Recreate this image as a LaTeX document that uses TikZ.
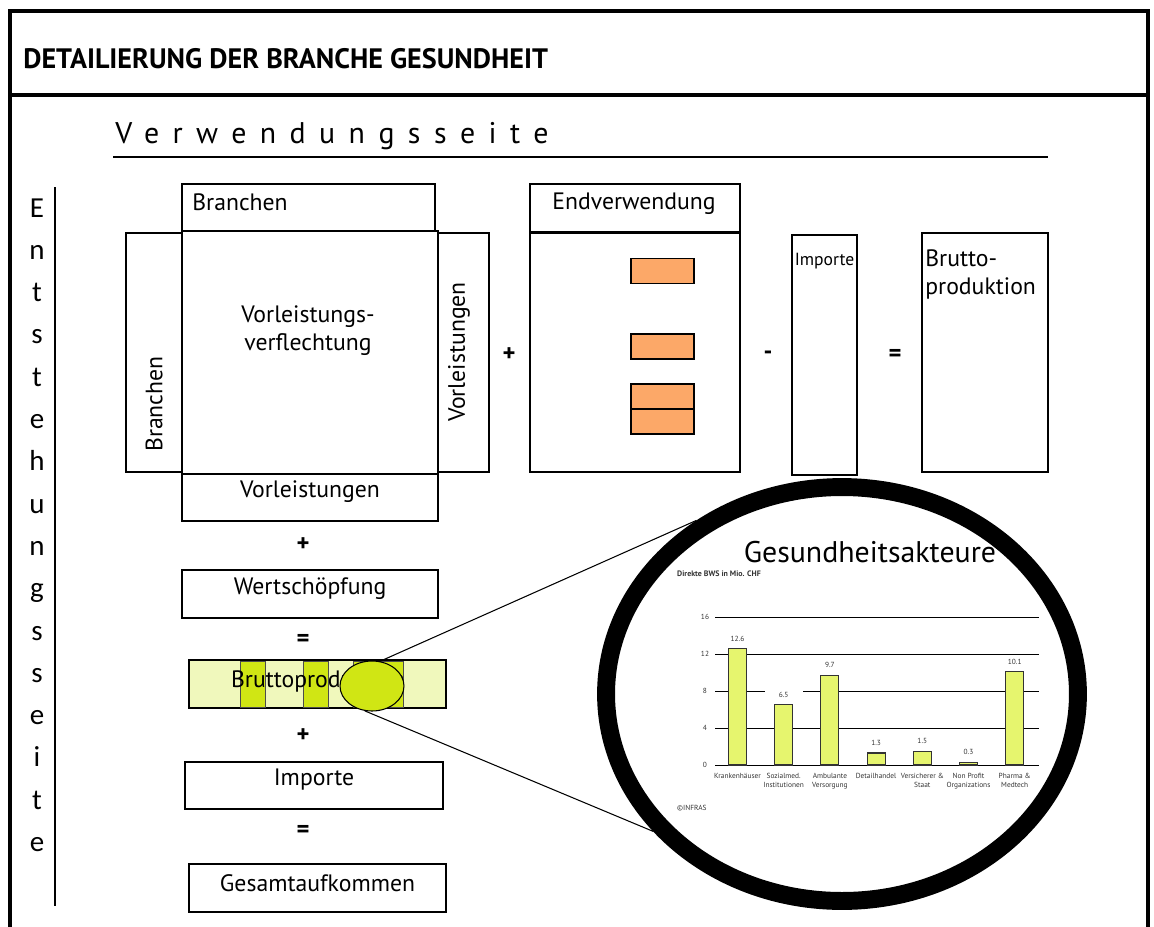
\documentclass[tikz,border=0pt]{standalone}
\usepackage{fontspec}
\setmainfont{PT Sans}
\newfontfamily\calfont{Carlito}
\usetikzlibrary{shapes.geometric, positioning, calc}
\definecolor{orangefill}{RGB}{252,168,104}
\definecolor{hellgruen}{RGB}{240,248,188}
\definecolor{gruen}{RGB}{208,230,20}
\definecolor{balkenfill}{RGB}{230,245,110}
\tikzset{
  bx/.style 2 args = {draw=black, line width=0.9pt, minimum width=#1*0.2mm,
    minimum height=#2*0.2mm, inner sep=0pt},
  txt/.style = {font=\fontsize{13.5}{16}\selectfont, inner sep=0pt},
  op/.style = {font=\fontsize{14}{16}\selectfont\bfseries, inner sep=0pt},
  orng/.style = {bx={63}{25}, fill=orangefill, line width=0.6pt},
  strip/.style = {bx={#1}{46}, fill=gruen, draw=black!70, line width=0.5pt},
  rahmen/.style = {draw=black, line width=2.3pt},
  vbuchst/.style = {font=\calfont\fontsize{16.5}{18}\selectfont, inner sep=0pt, anchor=base},
  gitter/.style = {draw=black, line width=0.5pt},
  balken/.style = {draw=black!80, fill=balkenfill, line width=0.6pt},
  klein/.style = {font=\fontsize{4.2}{5}\selectfont, inner sep=0.5pt, text=black!80},
  lupenlinie/.style = {draw=black, line width=0.6pt}
}

\begin{document}
\begin{tikzpicture}[x=0.02cm, y=-0.02cm]
  \useasboundingbox (0,0) rectangle (1154,927);
  \clip (0,0) rectangle (1154,927);
  % frame and heading
  \draw [rahmen] (10,940) -- (10,11) -- (1148,11) -- (1148,940);
  \draw [rahmen] (10,95) -- (1148,95);
  \node [anchor=base west, inner sep=0pt, font=\fontsize{16}{18}\selectfont\bfseries] (titel) at (23,68)
    {DETAILIERUNG DER BRANCHE GESUNDHEIT};
  \node [anchor=base west, inner sep=0pt, font=\fontsize{17}{19}\selectfont\addfontfeature{LetterSpace=45}] (vws) at (115,143)
    {Verwendungsseite};
  \coordinate (ul1) at (113,157);
  \coordinate (ul2) at (1048,157);
  \draw [line width=0.8pt] (ul1) -- (ul2);
  % Entstehungsseite
  \foreach \b [count=\i from 0] in {E,n,t,s,t,e,h,u,n,g,s,s,e,i,t,e}
    \node [vbuchst] (es\i) at (37,{217+42.3*\i}) {\b};
  \coordinate (vl1) at (55,187);
  \coordinate (vl2) at (55,906);
  \draw [line width=0.8pt] (vl1) -- (vl2);

  % input-output table
  \node [bx={253}{47}] (brtop) at (308.5,207.5) {};
  \node [txt, anchor=west] (brtoplbl) at (192,202) {Branchen};
  \node [bx={256}{243}] (vlv) at (310,352.5) {};
  \node [txt, align=center] (vlvlbl) at (308,331) {Vorleistungs-\\verflechtung};
  \node [bx={56}{239}] (brleft) at (154,352.5) {};
  \node [txt, rotate=90] (brleftlbl) at (154,404) {Branchen};
  \node [bx={51}{239}] (vlright) at (463.5,352.5) {};
  \node [txt, rotate=90] (vlrightlbl) at (459,352) {Vorleistungen};
  \node [bx={256}{47}] (vlbot) at (310,497.5) {};
  \node [txt] (vlbotlbl) at (310,492) {Vorleistungen};
  \node [op] (plus1) at (509,355) {+};

  \node [bx={210}{48}] (endkopf) at (635,208) {};
  \node [txt] (endkopflbl) at (634,204) {Endverwendung};
  \node [bx={210}{239}] (endbody) at (635,352.5) {};
  \node [orng] (o1) at (662.5,271) {};
  \node [orng] (o2) at (662.5,346.5) {};
  \node [orng] (o3) at (662.5,396.5) {};
  \node [orng] (o4) at (662.5,421.5) {};
  \node [op] (minus) at (768,355) {-};

  \node [bx={65}{240}] (imp) at (824.5,355) {};
  \node [txt, font=\fontsize{10}{12}\selectfont] (implbl) at (824.5,261) {Importe};
  \node [op] (gleich1) at (895,355) {=};
  \node [bx={126}{239}] (bp) at (985,352.5) {};
  \node [txt, anchor=north west, align=left] (bplbl) at (925,249) {Brutto-\\produktion};

  % left column
  \node [op] (plus2) at (303,545) {+};
  \node [bx={256}{48}] (ws) at (310,594) {};
  \node [txt] (wslbl) at (310,589) {Wertschöpfung};
  \node [op] (gleich2) at (303,640) {=};
  \node [bx={257}{48}, fill=hellgruen] (bpbar) at (317.5,684) {};
  \node [strip=25] (s1) at (252.5,684) {};
  \node [strip=25] (s2) at (315.5,684) {};
  \node [strip=50] (s3) at (378,684) {};
  \node [txt] (bpbarlbl) at (318,681) {Bruttoproduktion};
  \node [ellipse, draw=black, fill=gruen, line width=0.6pt, minimum width=64*0.2mm,
    minimum height=50*0.2mm, inner sep=0pt] (zoomsrc) at (372,686) {};
  \node [op] (plus3) at (303,736) {+};
  \node [bx={258}{47}] (imp2) at (314,785.5) {};
  \node [txt] (imp2lbl) at (314,780) {Importe};
  \node [op] (gleich3) at (303,831) {=};
  \node [bx={257}{48}] (ges) at (317.5,888) {};
  \node [txt] (geslbl) at (317.5,883) {Gesamtaufkommen};

  % magnifier
  \node [ellipse, draw=black, line width=10.2pt, minimum width=472*0.2mm,
    minimum height=414*0.2mm, inner sep=0pt] (lupe) at (842,694) {};
  \draw [lupenlinie] (zoomsrc.72) -- (lupe.130);
  \draw [lupenlinie] (zoomsrc.254) -- (lupe.216);

  % chart
  \node [txt, font=\fontsize{17}{20}\selectfont] (charttitel) at (870,552) {Gesundheitsakteure};
  \node [klein, anchor=west, font=\fontsize{4.5}{5}\selectfont\bfseries] (einheit) at (676,574) {Direkte BWS in Mio. CHF};
  \foreach \g in {0,4,...,16} {
    \draw [gitter] (715,{765-9.25*\g}) -- (1039,{765-9.25*\g});
    \node [klein] (tick\g) at (705,{765-9.25*\g}) {\g};
  }
  \foreach \w/\kat [count=\i from 0] in {12.6/Krankenhäuser, 6.5/{Sozialmed.\\Institutionen},
      9.7/{Ambulante\\Versorgung}, 1.3/Detailhandel, 1.5/{Versicherer \&\\Staat},
      0.3/{Non Profit\\Organizations}, 10.1/{Pharma \&\\Medtech}} {
    \draw [balken] ({737.5+46.2*\i-9},765) rectangle ({737.5+46.2*\i+9},{765-9.25*\w});
    \node [klein, fill=white, inner xsep=8pt] (wert\i) at ({737.5+46.2*\i},{765-9.25*\w-10}) {\w};
    \node [klein, anchor=north, align=center] (kat\i) at ({737.5+46.2*\i},772) {\kat};
  }
  \node [klein, anchor=west] (quelle) at (676,808) {\textcopyright INFRAS};
\end{tikzpicture}
\end{document}
